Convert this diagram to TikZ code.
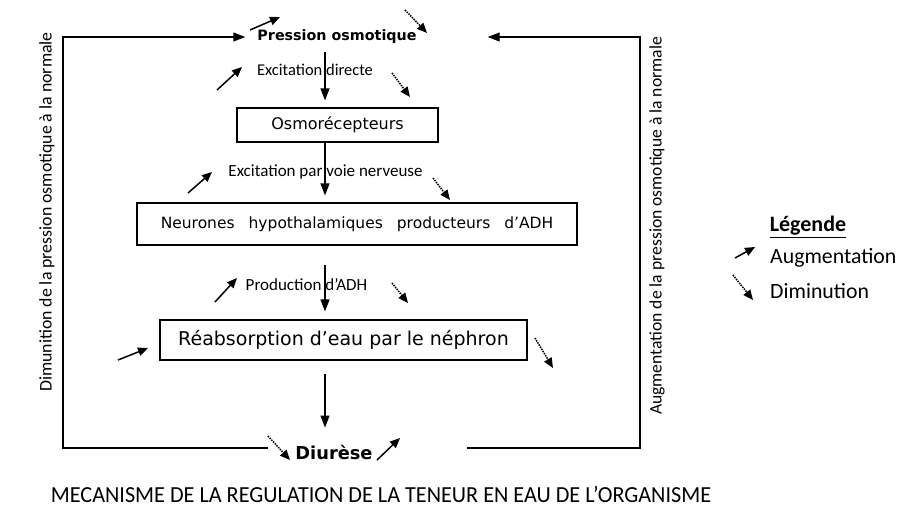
\documentclass[tikz,border=0pt]{standalone}
\usepackage{fontspec}
\setmainfont{Carlito}
\newfontfamily\boite{DejaVu Sans}
\usetikzlibrary{arrows.meta}

\tikzset{
  fleche/.style={-{Triangle[length=12pt,width=9pt]}, line width=1.2pt},
  hausse/.style={-{Triangle[length=10pt,width=8.5pt]}, line width=1.5pt},
  baisse/.style={-{Triangle[length=10pt,width=8.5pt]}, line width=1.5pt, densely dotted},
  cadre/.style={draw, line width=1.2pt, inner sep=0pt},
  texte/.style={inner sep=0pt}
}

\begin{document}
\begin{tikzpicture}[x=1pt, y=-1pt]
\useasboundingbox (0,0) rectangle (905,507);

% Etapes de la regulation
\node[texte, font=\boite\bfseries\fontsize{14.3}{16}\selectfont] (pres) at (337,37) {Pression osmotique};
\node[cadre, minimum width=201pt, minimum height=34pt, font=\boite\fontsize{16}{19}\selectfont] (osmo) at (337.5,125) {Osmorécepteurs};
\node[cadre, minimum width=440pt, minimum height=42pt, font=\boite\fontsize{15.5}{18}\selectfont] (neur) at (357,224) {Neurones\hspace{14pt}hypothalamiques\hspace{14pt}producteurs\hspace{14pt}d’ADH};
\node[cadre, minimum width=367pt, minimum height=40pt, font=\boite\fontsize{19}{22}\selectfont] (reab) at (343.5,340) {Réabsorption d’eau par le néphron};
\node[texte, font=\boite\bfseries\fontsize{17.8}{20}\selectfont] (diu) at (334,452) {Diurèse};

% Libelles des fleches
\node[texte, font=\fontsize{16.5}{18}\selectfont] (exc1) at (315,70) {Excitation directe};
\node[texte, font=\fontsize{17}{19}\selectfont] (exc2) at (325.5,172) {Excitation par voie nerveuse};
\node[texte, font=\fontsize{17}{19}\selectfont] (prod) at (306.5,285) {Production d’ADH};

% Fleches principales
\coordinate (axe) at (325,0);
\draw[fleche, shorten <=8pt, shorten >=7pt] (axe |- pres.south) -- (axe |- osmo.north);
\draw[fleche, shorten >=7pt] (axe |- osmo.south) -- (axe |- neur.north);
\draw[fleche, shorten <=19pt, shorten >=8pt] (axe |- neur.south) -- (axe |- reab.north);
\draw[fleche, shorten <=13pt, shorten >=17pt] (axe |- reab.south) -- (axe |- diu.north);

% Boucle de retour
\coordinate (gb) at (268,448);
\coordinate (db) at (467,448);
\draw[fleche, shorten >=12pt] (gb) -- (63,448) |- (pres.west);
\draw[fleche, shorten >=71pt] (db) -- (640,448) |- (pres.east);

\node[texte, rotate=90, font=\fontsize{17.8}{20}\selectfont] (retg) at (47,212) {Dimunition de la pression osmotique à la normale};
\node[texte, rotate=90, font=\fontsize{17.6}{20}\selectfont] (retd) at (657,226) {Augmentation de la pression osmotique à la normale};

% Augmentations
\draw[hausse] (250,30) -- ++(30,-13);
\draw[hausse] (217,90) -- ++(25,-23);
\draw[hausse] (188,193) -- ++(24,-21);
\draw[hausse] (215,302) -- ++(22,-24);
\draw[hausse] (118,360) -- ++(30,-12);
\draw[hausse] (377,460) -- ++(23,-22);

% Diminutions
\draw[baisse] (405,10) -- ++(22,23);
\draw[baisse] (392,73) -- ++(18,24);
\draw[baisse] (433,178) -- ++(17,22);
\draw[baisse] (392,283) -- ++(16,20);
\draw[baisse] (535,338) -- ++(18,30);
\draw[baisse] (268,436) -- ++(22,24);

% Legende
\node[texte, font=\bfseries\fontsize{22}{25}\selectfont] (leg) at (808,227) {\underline{Légende}};
\node[texte, anchor=west, font=\fontsize{21.8}{25}\selectfont] (aug) at (770,258) {Augmentation};
\node[texte, anchor=west, font=\fontsize{21.8}{25}\selectfont] (dim) at (770,291) {Diminution};
\draw[hausse] (735,258) -- ++(20,-11);
\draw[baisse] (733,275) -- ++(20,25);

% Titre
\node[texte, xscale=0.965, font=\fontsize{23}{26}\selectfont] (titre) at (381,494) {MECANISME DE LA REGULATION DE LA TENEUR EN EAU DE L’ORGANISME};
\end{tikzpicture}
\end{document}
